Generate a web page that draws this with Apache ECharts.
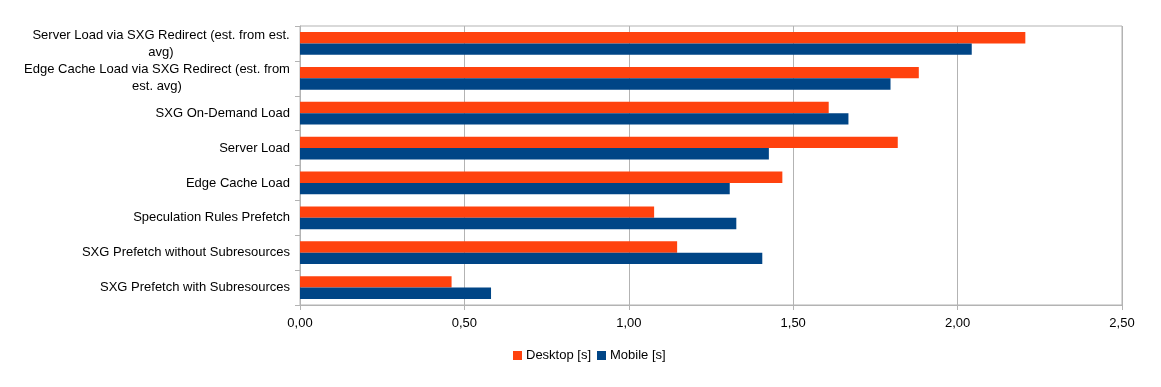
<!DOCTYPE html>
<html>
<head>
<meta charset="utf-8">
<script src="https://cdn.jsdelivr.net/npm/echarts@6/dist/echarts.min.js"></script>
<style>html,body{margin:0;padding:0;background:#fff}#c{width:1161px;height:387px}</style>
</head>
<body>
<div id="c"></div>
<script>
const categories = [
  'Server Load via SXG Redirect (est. from est. avg)',
  'Edge Cache Load via SXG Redirect (est. from est. avg)',
  'SXG On-Demand Load',
  'Server Load',
  'Edge Cache Load',
  'Speculation Rules Prefetch',
  'SXG Prefetch without Subresources',
  'SXG Prefetch with Subresources'
];
const desktop = [2.206, 1.882, 1.608, 1.818, 1.467, 1.077, 1.147, 0.461];
const mobile  = [2.043, 1.796, 1.668, 1.426, 1.307, 1.327, 1.406, 0.581];
const seriesNames = ['Desktop [s]', 'Mobile [s]'];

const FONT = 'Liberation Sans, Arial, sans-serif';
const FS = 13;
const ctx = document.createElement('canvas').getContext('2d');
ctx.font = FS + 'px ' + FONT;

function wrap(s, maxChars) {
  const words = s.split(' ');
  const lines = [];
  let cur = '';
  for (const w of words) {
    const t = cur ? cur + ' ' + w : w;
    if (t.length > maxChars && cur) { lines.push(cur); cur = w; } else cur = t;
  }
  if (cur) lines.push(cur);
  return lines;
}
const rich = {};
const labelMap = {};
categories.forEach((c, i) => {
  const lines = wrap(c, 44);
  if (lines.length > 1) {
    const w = Math.ceil(Math.max(...lines.map(l => ctx.measureText(l).width)));
    rich['w' + i] = { width: w, align: 'center', fontSize: FS, fontFamily: FONT, color: '#000', lineHeight: 17 };
    labelMap[c] = lines.map(l => '{w' + i + '|' + l + '}').join('\n');
  } else {
    labelMap[c] = c;
  }
});

const chart = echarts.init(document.getElementById('c'));
chart.setOption({
  animation: false,
  backgroundColor: '#fff',
  grid: { left: 300, right: 39, top: 26, bottom: 82, show: true, borderColor: '#b3b3b3', borderWidth: 1 },
  legend: {
    bottom: 20, left: 508, itemWidth: 9, itemHeight: 9, itemGap: 6, icon: 'rect',
    textStyle: { fontSize: 13, fontFamily: FONT, color: '#000', padding: [0, 0, 0, -1] },
    data: seriesNames
  },
  xAxis: {
    type: 'value', min: 0, max: 2.5, interval: 0.5,
    axisLine: { show: true, lineStyle: { color: '#b3b3b3' } },
    axisTick: { show: true, length: 5, lineStyle: { color: '#b3b3b3' } },
    splitLine: { show: true, lineStyle: { color: '#b3b3b3' } },
    axisLabel: { fontSize: 13, fontFamily: FONT, color: '#000', margin: 12,
      formatter: v => v.toFixed(2).replace('.', ',') }
  },
  yAxis: {
    type: 'category', inverse: true, data: categories,
    axisLine: { show: true, lineStyle: { color: '#b3b3b3' } },
    axisTick: { show: true, length: 5, lineStyle: { color: '#b3b3b3' } },
    axisLabel: { fontSize: FS, fontFamily: FONT, color: '#000', margin: 10, lineHeight: 17,
      formatter: v => labelMap[v], rich: rich }
  },
  series: [
    { name: seriesNames[0], type: 'bar', data: desktop, barGap: '0%', barCategoryGap: '35%',
      itemStyle: { color: '#ff420e' } },
    { name: seriesNames[1], type: 'bar', data: mobile, barGap: '0%', barCategoryGap: '35%',
      itemStyle: { color: '#004586' } }
  ]
});
</script>
</body>
</html>
